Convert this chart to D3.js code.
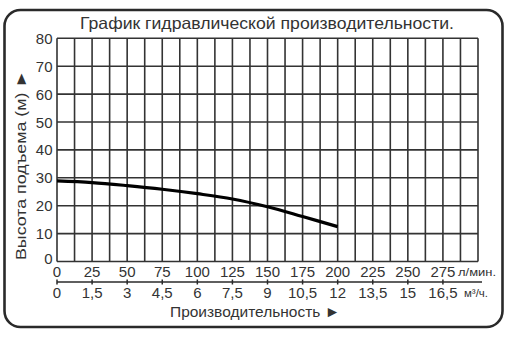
<!DOCTYPE html>
<html><head><meta charset="utf-8">
<script src="https://cdn.jsdelivr.net/npm/d3@7"></script>
<style>html,body{margin:0;padding:0;background:#fff;}svg{display:block;font-family:"Liberation Sans",Arial,sans-serif;}</style>
</head><body>
<script>
const flowLmin = [0, 25, 50, 75, 100, 125, 150, 175, 200];
const headM = [28.9, 28.3, 27.2, 25.9, 24.3, 22.4, 19.6, 16.1, 12.5];
const xTicksLmin = [0, 25, 50, 75, 100, 125, 150, 175, 200, 225, 250, 275];
const xTicksM3h = ["0", "1,5", "3", "4,5", "6", "7,5", "9", "10,5", "12", "13,5", "15", "16,5"];
const yTicks = [0, 10, 20, 30, 40, 50, 60, 70, 80];
const title = "График гидравлической производительности.";
const yTitle = "Высота подъема (м) ►";
const xTitle = "Производительность ►";

const W = 510, H = 341;
const svg = d3.select("body").append("svg").attr("width", W).attr("height", H);
const ink = "#2a2a2a";

const x = d3.scaleLinear().domain([0, 300]).range([57, 478]);
const y = d3.scaleLinear().domain([0, 80]).range([261.5, 38.3]);

// frame
svg.append("rect").attr("x", 4.5).attr("y", 10).attr("width", 498).attr("height", 317)
  .attr("rx", 16).attr("fill", "none").attr("stroke", ink).attr("stroke-width", 2.6);

// title
svg.append("text").attr("x", 267).attr("y", 29).attr("text-anchor", "middle")
  .attr("font-size", 16.5).attr("fill", "#333").attr("textLength", 374).attr("lengthAdjust", "spacingAndGlyphs").text(title);

// grid
const grid = svg.append("g").attr("stroke", "#333").attr("stroke-width", 1.6);
d3.range(0, 300.1, 12.5).forEach(v => {
  grid.append("line").attr("x1", x(v)).attr("x2", x(v)).attr("y1", y(80)).attr("y2", y(0));
});
yTicks.forEach(v => {
  grid.append("line").attr("x1", x(0)).attr("x2", x(300)).attr("y1", y(v)).attr("y2", y(v));
});

// y labels
svg.append("g").selectAll("text").data(yTicks).join("text")
  .attr("x", 52.5).attr("y", d => d === 0 ? y(d) + 2 : y(d) + 5.5)
  .attr("text-anchor", "end").attr("font-size", 15).attr("fill", "#333").text(d => d);

// y title
svg.append("text").attr("transform", "translate(26,165) rotate(-90)").attr("text-anchor", "middle")
  .attr("font-size", 15.5).attr("fill", "#333").attr("textLength", 190).attr("lengthAdjust", "spacingAndGlyphs").text(yTitle);

// x top labels
svg.append("g").selectAll("text").data(xTicksLmin).join("text")
  .attr("x", d => x(d)).attr("y", 277).attr("text-anchor", "middle")
  .attr("font-size", 15).attr("fill", "#333").text(d => d);
svg.append("text").attr("x", 458).attr("y", 276).attr("font-size", 10.5).attr("fill", "#333")
  .attr("textLength", 38).attr("lengthAdjust", "spacingAndGlyphs").text("л/мин.");

// bottom axis line
const ax = svg.append("g").attr("stroke", ink).attr("stroke-width", 1.5);
ax.append("line").attr("x1", x(0)).attr("x2", 482).attr("y1", 282).attr("y2", 282);
xTicksLmin.forEach(v => {
  ax.append("line").attr("x1", x(v)).attr("x2", x(v)).attr("y1", 279.5).attr("y2", 284.5);
});
svg.append("g").selectAll("text").data(xTicksM3h).join("text")
  .attr("x", (d, i) => x(xTicksLmin[i])).attr("y", 298).attr("text-anchor", "middle")
  .attr("font-size", 15).attr("fill", "#333").text(d => d);
svg.append("text").attr("x", 464).attr("y", 297).attr("font-size", 10.5).attr("fill", "#333")
  .attr("textLength", 24).attr("lengthAdjust", "spacingAndGlyphs").text("м³/ч.");

// x title
svg.append("text").attr("x", 255).attr("y", 317).attr("text-anchor", "middle")
  .attr("font-size", 15.5).attr("fill", "#333").attr("textLength", 170).attr("lengthAdjust", "spacingAndGlyphs").text(xTitle);

// curve
const line = d3.line().x((d, i) => x(flowLmin[i])).y(d => y(d)).curve(d3.curveCatmullRom);
svg.append("path").attr("d", line(headM)).attr("fill", "none").attr("stroke", "#000").attr("stroke-width", 3.2);
</script>
</body></html>
